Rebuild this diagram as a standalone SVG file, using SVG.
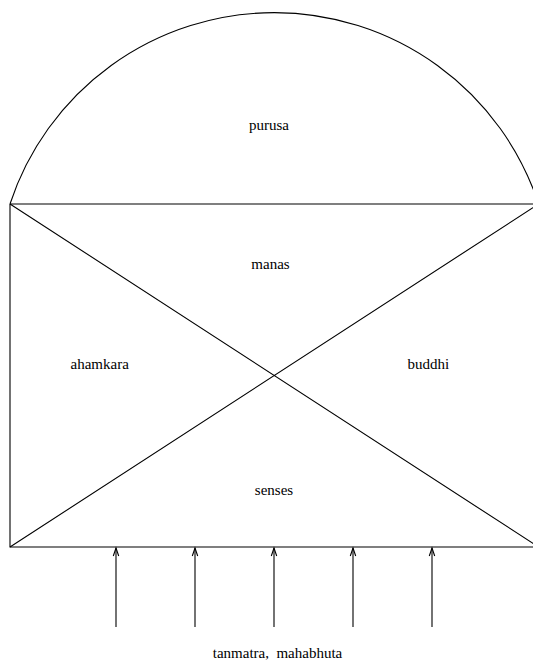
<svg xmlns="http://www.w3.org/2000/svg" width="533" height="662" viewBox="0 0 533 662">
<style>
.ln{fill:none;stroke:#000;stroke-width:1.1}
.ar{fill:none;stroke:#000;stroke-width:1.1;marker-end:url(#ah)}
text{font-family:"Liberation Serif","Times New Roman",serif;font-size:15px;fill:#000;text-anchor:middle}
</style>
<defs>
<marker id="ah" markerWidth="12" markerHeight="8" refX="9" refY="4" orient="auto" markerUnits="userSpaceOnUse" viewBox="0 0 12 8">
<path d="M1,1.3 L9,4 L1,6.7" fill="none" stroke="#000" stroke-width="1.1"/>
</marker>
</defs>
<rect width="533" height="662" fill="#fff"/>
<g id="purusa">
<path class="ln" d="M10,204 A278.2,278.2 0 0 1 538.6,204"/>
<text x="269" y="130">purusa</text>
</g>
<g id="frame">
<path class="ln" d="M10,204 H538.6 M10,204 V547 H538.6"/>
</g>
<g id="diagonals">
<path class="ln" d="M10,204 L538.6,547 M10,547 L538.6,204"/>
</g>
<g id="manas"><text x="270.5" y="269">manas</text></g>
<g id="ahamkara"><text x="99.7" y="369">ahamkara</text></g>
<g id="buddhi"><text x="428.3" y="369">buddhi</text></g>
<g id="senses"><text x="274" y="495">senses</text></g>
<g id="connectors">
<path class="ar" d="M116,627 V548"/>
<path class="ar" d="M195,627 V548"/>
<path class="ar" d="M274,627 V548"/>
<path class="ar" d="M353,627 V548"/>
<path class="ar" d="M432,627 V548"/>
</g>
<g id="tanmatra"><text x="277.5" y="658" xml:space="preserve">tanmatra,  mahabhuta</text></g>
</svg>
